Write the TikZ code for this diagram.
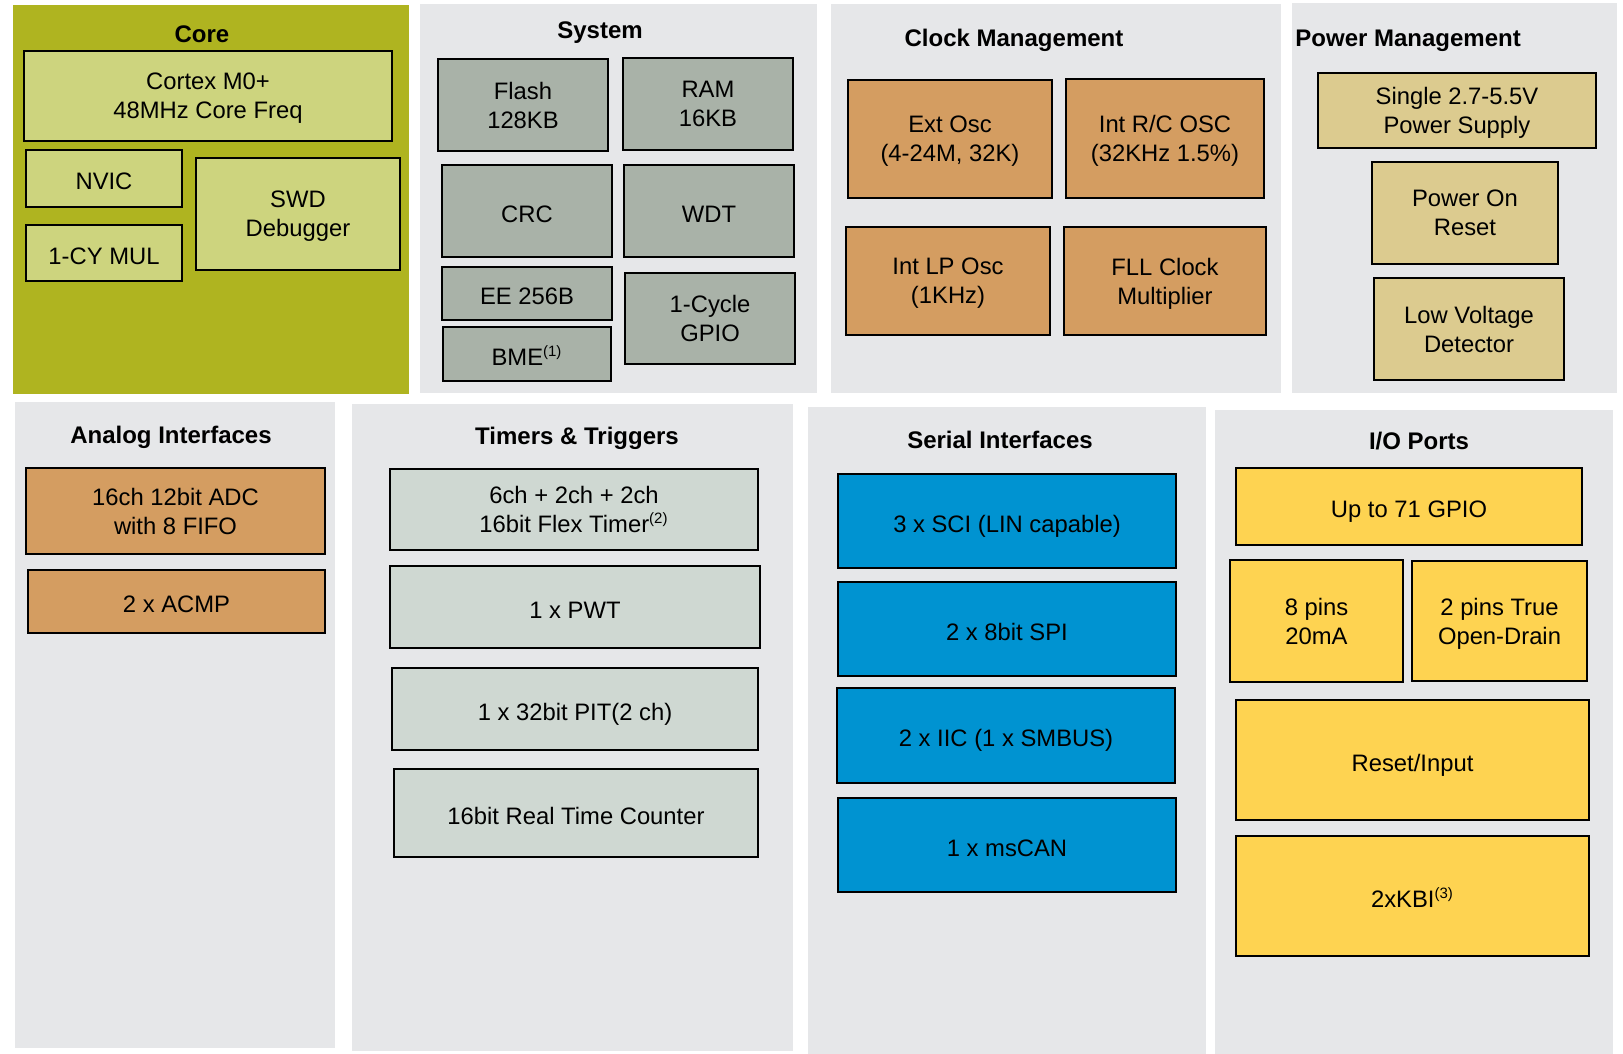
\documentclass[tikz,border=0pt]{standalone}
\usepackage{fontspec}
\setmainfont{Liberation Sans}
\usetikzlibrary{positioning,fit}

\definecolor{coreolive}{HTML}{AFB420}
\definecolor{corelight}{HTML}{CDD47E}
\definecolor{panelgray}{HTML}{E6E7E9}
\definecolor{sysgray}{HTML}{A9B2A8}
\definecolor{clkorange}{HTML}{D49D61}
\definecolor{pwrtan}{HTML}{DCCB8F}
\definecolor{tmrgray}{HTML}{CFD8D2}
\definecolor{serblue}{HTML}{0093D1}
\definecolor{ioyellow}{HTML}{FED351}

\newcommand{\fn}[1]{\textsuperscript{\fontsize{7.5}{8}\selectfont(#1)}}

\begin{document}
\begin{tikzpicture}[x=0.5pt,y=-0.5pt,align=center,
                    font=\fontsize{11.9}{14.5}\selectfont,
                    spot/.style n args={4}{minimum width={(#3-#1)*0.5pt},
                      minimum height={(#4-#2)*0.5pt},
                      at={({(#1+#3)/2},{(#2+#4)/2})}}]
  \tikzstyle{panel}=[fill=panelgray,inner sep=0pt]
  \tikzstyle{title}=[font=\fontsize{12}{14}\selectfont\bfseries,inner sep=0pt,
                     text height=1.6ex,text depth=.3ex]
  \tikzstyle{blk}=[draw=black,line width=1.4pt,inner sep=0pt,text depth=0pt,
                   execute at begin node={\rule{0pt}{11pt}}]
  \tikzstyle{corebox}=[blk,fill=corelight]
  \tikzstyle{sysbox}=[blk,fill=sysgray]
  \tikzstyle{clkbox}=[blk,fill=clkorange]
  \tikzstyle{pwrbox}=[blk,fill=pwrtan]
  \tikzstyle{tmrbox}=[blk,fill=tmrgray]
  \tikzstyle{serbox}=[blk,fill=serblue]
  \tikzstyle{iobox}=[blk,fill=ioyellow]

  \useasboundingbox[fill=white] (0,0) rectangle (1623,1054);

  % panels
  \node[panel,fill=coreolive,fit={(13,5) (409,394)}] (core) {};
  \node[panel,fit={(420,4) (817,393)}] (system) {};
  \node[panel,fit={(831,4) (1281,393)}] (clock) {};
  \node[panel,fit={(1292,3) (1617,393)}] (power) {};
  \node[panel,fit={(15,402) (335,1048)}] (analog) {};
  \node[panel,fit={(352,404) (793,1051)}] (timers) {};
  \node[panel,fit={(808,407) (1206,1054)}] (serial) {};
  \node[panel,fit={(1215,410) (1613,1054)}] (ioports) {};

  \node[title] (coretitle) at (202,36) {Core};
  \node[title] (systitle) at (600,32) {System};
  \node[title] (clktitle) at (1014,40) {Clock Management};
  \node[title,anchor=west] (pwrtitle) at (1295,40) {Power Management};
  \node[title] (anatitle) at (171,437) {Analog Interfaces};
  \node[title] (tmrtitle) at (577,438) {Timers \& Triggers};
  \node[title] (sertitle) at (1000,442) {Serial Interfaces};
  \node[title] (iotitle) at (1419,443) {I/O Ports};

  % core
  \node[corebox,spot={24}{51}{392}{141}] (cortex) {Cortex M0+\\48MHz Core Freq};
  \node[corebox,spot={26}{150}{182}{207}] (nvic) {NVIC};
  \node[corebox,spot={26}{225}{182}{281}] (mul) {1-CY MUL};
  \node[corebox,spot={196}{158}{400}{270}] (swd) {SWD\\Debugger};

  % system
  \node[sysbox,spot={438}{59}{608}{151}] (flash) {Flash\\128KB};
  \node[sysbox,spot={623}{58}{793}{150}] (ram) {RAM\\16KB};
  \node[sysbox,spot={442}{165}{612}{257}] (crc) {CRC};
  \node[sysbox,spot={624}{165}{794}{257}] (wdt) {WDT};
  \node[sysbox,spot={442}{267}{612}{320}] (eeprom) {EE 256B};
  \node[sysbox,spot={443}{327}{611}{381}] (bme) {BME\fn{1}};
  \node[sysbox,spot={625}{273}{795}{364}] (fgpio) {1-Cycle\\GPIO};

  % clock
  \node[clkbox,spot={848}{80}{1052}{198}] (extosc) {Ext Osc\\(4-24M, 32K)};
  \node[clkbox,spot={1066}{79}{1264}{198}] (rcosc) {Int R/C OSC\\(32KHz 1.5\%)};
  \node[clkbox,spot={846}{227}{1050}{335}] (lposc) {Int LP Osc\\(1KHz)};
  \node[clkbox,spot={1064}{227}{1266}{335}] (fll) {FLL Clock\\Multiplier};

  % power
  \node[pwrbox,spot={1318}{73}{1596}{148}] (supply) {Single 2.7-5.5V\\Power Supply};
  \node[pwrbox,spot={1372}{162}{1558}{264}] (por) {Power On\\Reset};
  \node[pwrbox,spot={1374}{278}{1564}{380}] (lvd) {Low Voltage\\Detector};

  % analog
  \node[clkbox,spot={26}{468}{325}{554}] (adc) {16ch 12bit ADC\\with 8 FIFO};
  \node[clkbox,spot={28}{570}{325}{633}] (acmp) {2 x ACMP};

  % timers
  \node[tmrbox,spot={390}{469}{758}{550}] (ftm) {6ch + 2ch + 2ch\\16bit Flex Timer\fn{2}};
  \node[tmrbox,spot={390}{566}{760}{648}] (pwt) {1 x PWT};
  \node[tmrbox,spot={392}{668}{758}{750}] (pit) {1 x 32bit PIT(2 ch)};
  \node[tmrbox,spot={394}{769}{758}{857}] (rtc) {16bit Real Time Counter};

  % serial
  \node[serbox,spot={838}{474}{1176}{568}] (sci) {3 x SCI (LIN capable)};
  \node[serbox,spot={838}{582}{1176}{676}] (spi) {2 x 8bit SPI};
  \node[serbox,spot={837}{688}{1175}{783}] (iic) {2 x IIC (1 x SMBUS)};
  \node[serbox,spot={838}{798}{1176}{892}] (can) {1 x msCAN};

  % io ports
  \node[iobox,spot={1236}{468}{1582}{545}] (gpio71) {Up to 71 GPIO};
  \node[iobox,spot={1230}{560}{1403}{682}] (pins8) {8 pins\\20mA};
  \node[iobox,spot={1412}{561}{1587}{681}] (pins2) {2 pins True\\Open-Drain};
  \node[iobox,spot={1236}{700}{1589}{820}] (rstin) {Reset/Input};
  \node[iobox,spot={1236}{836}{1589}{956}] (kbi) {2xKBI\fn{3}};
\end{tikzpicture}
\end{document}
